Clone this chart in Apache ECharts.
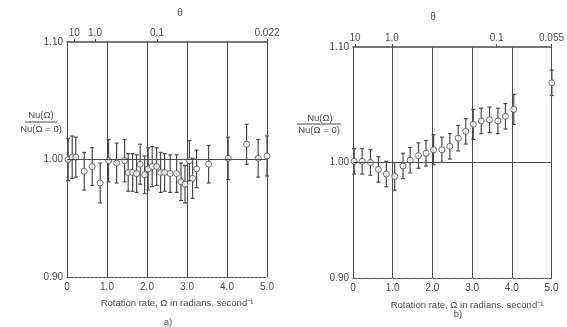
<!DOCTYPE html>
<html>
<head>
<meta charset="utf-8">
<script src="https://cdn.jsdelivr.net/npm/echarts/dist/echarts.min.js"></script>
<style>
  html, body { margin: 0; padding: 0; background: #fff; }
  #chart { width: 567px; height: 327px; }
</style>
</head>
<body>
<div id="chart"></div>
<script>
// panel a) – rotation rate vs normalised Nusselt number
const omegaA = [0.03, 0.13, 0.22, 0.43, 0.63, 0.83, 1.04, 1.24, 1.44, 1.53, 1.64, 1.74, 1.83, 1.94, 2.03, 2.13,
  2.24, 2.34, 2.44, 2.58, 2.74, 2.85, 2.95, 3.06, 3.14, 3.24, 3.54, 4.03, 4.49, 4.78, 5.0]
const nuA = [1.000, 1.002, 1.002, 0.990, 0.994, 0.980, 0.999, 0.997, 0.999, 0.989, 0.989, 0.988, 0.996, 0.987, 0.992, 0.994,
  0.994, 0.989, 0.989, 0.988, 0.988, 0.981, 0.979, 0.999, 0.984, 0.992, 0.996, 1.001, 1.013, 1.001, 1.003]
const errA = [0.018, 0.018, 0.017, 0.016, 0.016, 0.017, 0.018, 0.017, 0.018, 0.016, 0.016, 0.016, 0.017, 0.016, 0.018, 0.017,
  0.016, 0.017, 0.016, 0.016, 0.016, 0.016, 0.016, 0.017, 0.017, 0.016, 0.016, 0.018, 0.017, 0.016, 0.017]

// panel b)
const omegaB = [0.03, 0.23, 0.44, 0.64, 0.84, 1.05, 1.26, 1.44, 1.65, 1.84, 2.03, 2.24, 2.44, 2.65, 2.84, 3.03,
  3.23, 3.44, 3.65, 3.84, 4.05, 5.01]
const nuB = [1.001, 1.001, 1.000, 0.994, 0.990, 0.988, 0.997, 1.002, 1.006, 1.008, 1.011, 1.011, 1.014, 1.021, 1.027, 1.033,
  1.036, 1.037, 1.036, 1.040, 1.046, 1.069]
const errB = [0.011, 0.011, 0.011, 0.011, 0.011, 0.012, 0.011, 0.011, 0.011, 0.011, 0.013, 0.011, 0.011, 0.011, 0.011, 0.013,
  0.011, 0.011, 0.011, 0.011, 0.013, 0.011]

// reference level (Nu ratio ~ 1) drawn across each panel
const refLevel = [0.999, 0.998]

// top theta axis: label text and where it sits on the omega scale
const thetaLabelsA = ['10', '1.0', '0.1', '0.022']
const thetaPosA = [0.18, 0.7, 2.25, 5.0]
const thetaLabelsB = ['10', '1.0', '0.1', '0.055']
const thetaPosB = [0.05, 0.98, 3.62, 5.0]

const INK = '#4a4a4a'
const FONT = 'Liberation Sans'

const chart = echarts.init(document.getElementById('chart'))

function zip(xs, ys) {
  return xs.map((x, i) => [x, ys[i]])
}

function bars(xs, ys, es) {
  return xs.map((x, i) => [x, ys[i] - es[i], ys[i] + es[i]])
}

function renderErrorBar(params, api) {
  const x = api.value(0)
  const lo = api.coord([x, api.value(1)])
  const hi = api.coord([x, api.value(2)])
  const w = 2
  const style = { stroke: INK, lineWidth: 1.2 }
  return {
    type: 'group',
    children: [
      { type: 'line', shape: { x1: lo[0], y1: lo[1], x2: hi[0], y2: hi[1] }, style },
      { type: 'line', shape: { x1: lo[0] - w, y1: lo[1], x2: lo[0] + w, y2: lo[1] }, style },
      { type: 'line', shape: { x1: hi[0] - w, y1: hi[1], x2: hi[0] + w, y2: hi[1] }, style },
    ],
  }
}

function bottomAxis(gridIndex) {
  return {
    type: 'value', gridIndex, position: 'bottom', min: 0, max: 5, interval: 1,
    axisLine: { lineStyle: { color: INK, width: 1, type: [3, 1] } },
    axisTick: { show: false },
    axisLabel: {
      color: INK, fontFamily: FONT, fontSize: 10, margin: 5,
      formatter: (v) => (v === 0 ? '0' : v.toFixed(1)),
    },
    splitLine: { show: true, lineStyle: { color: INK, width: 1 } },
  }
}

function topAxis(gridIndex, pos, labels) {
  return {
    type: 'value', gridIndex, position: 'top', min: 0, max: 5,
    axisLine: { lineStyle: { color: INK, width: 1.5 } },
    axisTick: { show: true, customValues: pos, length: 3, lineStyle: { color: INK } },
    axisLabel: {
      color: INK, fontFamily: FONT, fontSize: 10, margin: 4, customValues: pos,
      formatter: (v) => {
        const i = pos.findIndex((p) => Math.abs(p - v) < 1e-6)
        return i >= 0 ? labels[i] : ''
      },
    },
    splitLine: { show: false },
  }
}

function leftAxis(gridIndex) {
  return {
    type: 'value', gridIndex, min: 0.9, max: 1.1, interval: 0.1,
    axisLine: { show: true, lineStyle: { color: INK, width: 1 } },
    axisTick: { show: false },
    axisLabel: { color: INK, fontFamily: FONT, fontSize: 10, margin: 4, formatter: (v) => v.toFixed(2) },
    splitLine: { show: false },
  }
}

function panelSeries(xAxisIndex, yAxisIndex, xs, ys, es, ref) {
  return [
    {
      type: 'custom', xAxisIndex, yAxisIndex,
      renderItem: renderErrorBar,
      encode: { x: 0, y: [1, 2] },
      data: bars(xs, ys, es),
      clip: false, silent: true, z: 3,
    },
    {
      type: 'scatter', xAxisIndex, yAxisIndex,
      symbol: 'circle', symbolSize: 6,
      itemStyle: { color: '#fff', borderColor: INK, borderWidth: 1 },
      data: zip(xs, ys),
      clip: false, z: 4,
      markLine: {
        silent: true, symbol: 'none', label: { show: false },
        lineStyle: { color: INK, width: 1, type: 'solid' },
        data: [{ yAxis: ref }],
      },
    },
  ]
}

function label(text, x, y, size) {
  return {
    type: 'text', x, y,
    style: { text, fill: INK, font: (size || 10) + 'px "' + FONT + '"', align: 'center', verticalAlign: 'middle' },
  }
}

const option = {
  backgroundColor: '#fff',
  animation: false,
  grid: [
    { left: 67, top: 42, width: 200, height: 235 },
    { left: 353, top: 47, width: 200, height: 231 },
  ],
  xAxis: [
    bottomAxis(0),
    topAxis(0, thetaPosA, thetaLabelsA),
    bottomAxis(1),
    topAxis(1, thetaPosB, thetaLabelsB),
  ],
  yAxis: [leftAxis(0), leftAxis(1)],
  series: [
    ...panelSeries(0, 0, omegaA, nuA, errA, refLevel[0]),
    ...panelSeries(2, 1, omegaB, nuB, errB, refLevel[1]),
  ],
  graphic: [
    label('θ', 180, 13, 10),
    label('θ', 433, 17, 10),
    label('Nu(Ω)', 41, 115, 9.5),
    { type: 'line', shape: { x1: 25, y1: 122, x2: 57, y2: 122 }, style: { stroke: INK, lineWidth: 1 } },
    label('Nu(Ω = 0)', 41, 129, 9.5),
    label('Nu(Ω)', 320, 118, 9.5),
    { type: 'line', shape: { x1: 297, y1: 124, x2: 341, y2: 124 }, style: { stroke: INK, lineWidth: 1 } },
    label('Nu(Ω = 0)', 319, 130, 9.5),
    label('Rotation rate, Ω in radians. second⁻¹', 177, 303, 9.5),
    label('Rotation rate, Ω in radians. second⁻¹', 467, 305, 9.5),
    label('a)', 168, 322, 9.5),
    label('b)', 458, 314, 9.5),
  ],
}

chart.setOption(option)
</script>
</body>
</html>
